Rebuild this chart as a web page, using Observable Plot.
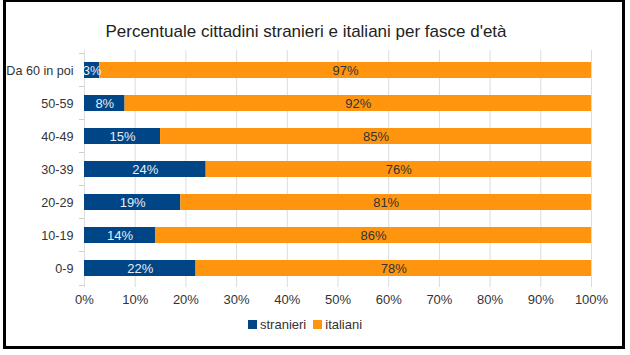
<!DOCTYPE html>
<html>
<head>
<meta charset="utf-8">
<script src="https://cdn.jsdelivr.net/npm/d3@7"></script>
<script src="https://cdn.jsdelivr.net/npm/@observablehq/plot@0.6"></script>
<style>
  html, body { margin: 0; padding: 0; background: #fff; }
  #wrap { position: relative; width: 630px; height: 355px; overflow: hidden; font-family: "Liberation Sans", Arial, sans-serif; }
  #frame { position: absolute; left: 3px; top: 0px; width: 616px; height: 344px; border: 3px solid #000; border-top-width: 2px; box-sizing: content-box; }
  #title { position: absolute; left: 0; width: 612px; top: 22px; text-align: center; font-size: 17px; color: #222; }
  #chart { position: absolute; left: 0; top: 0; }
  #legend { position: absolute; top: 317px; left: 248px; font-size: 13px; color: #333; display: flex; align-items: center; }
  #legend span.sw { display: inline-block; width: 9px; height: 9px; margin-right: 3px; }
  #legend span.lb { margin-right: 7px; }
</style>
</head>
<body>
<div id="wrap">
  <div id="frame"></div>
  <div id="title">Percentuale cittadini stranieri e italiani per fasce d'età</div>
  <div id="chart"></div>
  <div id="legend"></div>
</div>
<script>
const ages = ["Da 60 in poi", "50-59", "40-49", "30-39", "20-29", "10-19", "0-9"];
const series = ["stranieri", "italiani"];
const stranieri = [3, 8, 15, 24, 19, 14, 22];
const italiani = [97, 92, 85, 76, 81, 86, 78];
const xTicks = [0, 10, 20, 30, 40, 50, 60, 70, 80, 90, 100];
const colors = ["#004586", "#ff950e"];
const textColors = ["#e6edf5", "#333333"];

const rows = [];
ages.forEach((a, i) => {
  rows.push({age: a, series: "stranieri", value: stranieri[i]});
  rows.push({age: a, series: "italiani", value: italiani[i]});
});

const chart = Plot.plot({
  width: 630,
  height: 310,
  marginTop: 50,
  marginBottom: 23,
  marginLeft: 84,
  marginRight: 39,
  style: {fontFamily: "Liberation Sans, Arial, sans-serif", fontSize: "13px", color: "#333", background: "transparent"},
  x: {domain: [0, 100], ticks: xTicks, tickFormat: d => d + "%", tickSize: 0, tickPadding: 7, label: null},
  y: {domain: ages, paddingInner: 0.52, paddingOuter: 0.26, label: null},
  color: {domain: series, range: colors},
  marks: [
    Plot.ruleX(xTicks, {stroke: "#dcdcdc", strokeWidth: 1}),
    Plot.ruleY(ages, {y: d => d, x1: -1, x2: 0, dy: -17, stroke: "#cfcfcf"}),
    Plot.ruleY([ages[ages.length - 1]], {y: d => d, x1: -1, x2: 0, dy: 17, stroke: "#cfcfcf"}),
    Plot.axisY({tickSize: 0, tickPadding: 11, fontSize: 12.6, label: null}),
    Plot.barX(rows, {x: "value", y: "age", fill: "series", order: series}),
    Plot.text(rows, Plot.stackX({
      x: "value", y: "age", z: "series", order: series,
      text: d => d.value + "%",
      fill: d => textColors[series.indexOf(d.series)],
      fontSize: 13
    }))
  ]
});
document.getElementById("chart").appendChild(chart);

const legend = document.getElementById("legend");
series.forEach((s, i) => {
  const sw = document.createElement("span");
  sw.className = "sw";
  sw.style.background = colors[i];
  const lb = document.createElement("span");
  lb.className = "lb";
  lb.textContent = s;
  legend.appendChild(sw);
  legend.appendChild(lb);
});
</script>
</body>
</html>
